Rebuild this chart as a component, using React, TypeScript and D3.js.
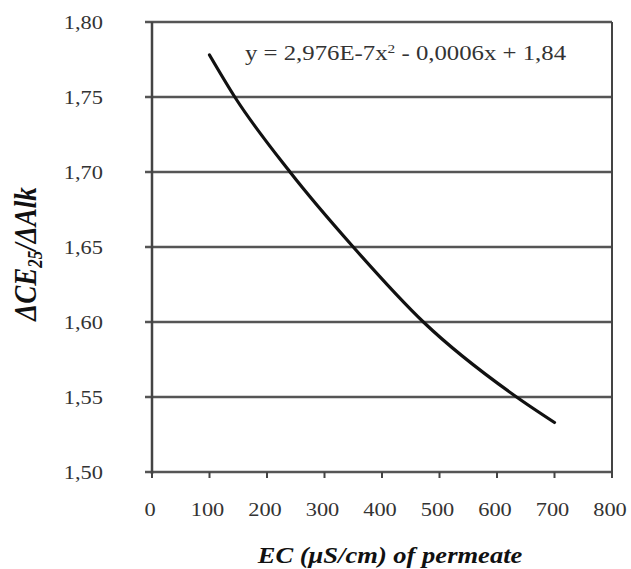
import React from "react";
import * as d3 from "d3";

const width = 631;
const height = 569;
const margin = { top: 22, right: 19, bottom: 97, left: 152 };

// curve (EC, ratio)
const ecValues = [100, 144, 240, 350, 472, 634, 700];
const ratioValues = [1.778, 1.75, 1.7, 1.65, 1.6, 1.55, 1.533];

const xTicks = [0, 100, 200, 300, 400, 500, 600, 700, 800];
const yTicks = [1.5, 1.55, 1.6, 1.65, 1.7, 1.75, 1.8];

const equation = "y = 2,976E-7x";
const equationTail = " - 0,0006x + 1,84";

const serif = "'Liberation Serif', 'Times New Roman', serif";
// the scanned figure is a bit wider than tall
const stretch = 1.18;

export default function App() {
  const x = d3
    .scaleLinear()
    .domain([0, 800])
    .range([margin.left, width - margin.right]);
  const y = d3
    .scaleLinear()
    .domain([1.5, 1.8])
    .range([height - margin.bottom, margin.top]);

  const points: [number, number][] = ecValues.map((e, i) => [e, ratioValues[i]]);
  const line = d3
    .line<[number, number]>()
    .x(d => x(d[0]))
    .y(d => y(d[1]))
    .curve(d3.curveMonotoneX);

  const fmt = (v: number) => v.toFixed(2).replace(".", ",");
  const at = (px: number, py: number) => `translate(${px},${py}) scale(${stretch},1)`;
  const x0 = x(0);
  const x1 = x(800);
  const yb = y(1.5);
  const yt = y(1.8);

  return (
    <svg
      width={width}
      height={height}
      style={{ position: "absolute", left: 0, top: 0, background: "#fff" }}
    >
      {/* grid lines */}
      {yTicks.map(t => (
        <line
          key={"g" + t}
          x1={x0 - 7}
          x2={x1}
          y1={y(t)}
          y2={y(t)}
          stroke="#555"
          strokeWidth={2.5}
        />
      ))}
      {/* frame */}
      <line x1={x0} x2={x0} y1={yt} y2={yb + 2} stroke="#444" strokeWidth={2.5} />
      <line x1={x1} x2={x1} y1={yt} y2={yb} stroke="#444" strokeWidth={2} />
      {xTicks.map(t => (
        <line
          key={"xt" + t}
          x1={x(t)}
          x2={x(t)}
          y1={yb}
          y2={yb + 6}
          stroke="#444"
          strokeWidth={2}
        />
      ))}
      {/* y tick labels */}
      {yTicks.map(t => (
        <text
          key={"yl" + t}
          transform={at(103, y(t) + 7)}
          textAnchor="end"
          fontFamily={serif}
          fontSize={19}
          fill="#333"
        >
          {fmt(t)}
        </text>
      ))}
      {/* x tick labels */}
      {xTicks.map(t => (
        <text
          key={"xl" + t}
          transform={at(x(t) - 2, 516)}
          textAnchor="middle"
          fontFamily={serif}
          fontSize={19}
          fill="#333"
        >
          {t}
        </text>
      ))}
      {/* trend curve */}
      <path d={line(points) || ""} fill="none" stroke="#111" strokeWidth={3.2} strokeLinecap="round" />
      {/* equation */}
      <text transform={at(245, 60)} fontFamily={serif} fontSize={21} fill="#333">
        {equation}
        <tspan dy={-7} fontSize={13}>2</tspan>
        <tspan dy={7}>{equationTail}</tspan>
      </text>
      {/* axis titles */}
      <text
        transform={at(390, 563)}
        textAnchor="middle"
        fontFamily={serif}
        fontSize={22.5}
        fontWeight="bold"
        fontStyle="italic"
        fill="#111"
      >
        EC (μS/cm) of permeate
      </text>
      <text
        transform={`translate(36,254) scale(${stretch},1) rotate(-90)`}
        textAnchor="middle"
        fontFamily={serif}
        fontSize={27}
        fontWeight="bold"
        fontStyle="italic"
        fill="#111"
      >
        ΔCE<tspan fontSize={17} dy={5}>25</tspan>
        <tspan dy={-5}>/ΔAlk</tspan>
      </text>
    </svg>
  );
}
